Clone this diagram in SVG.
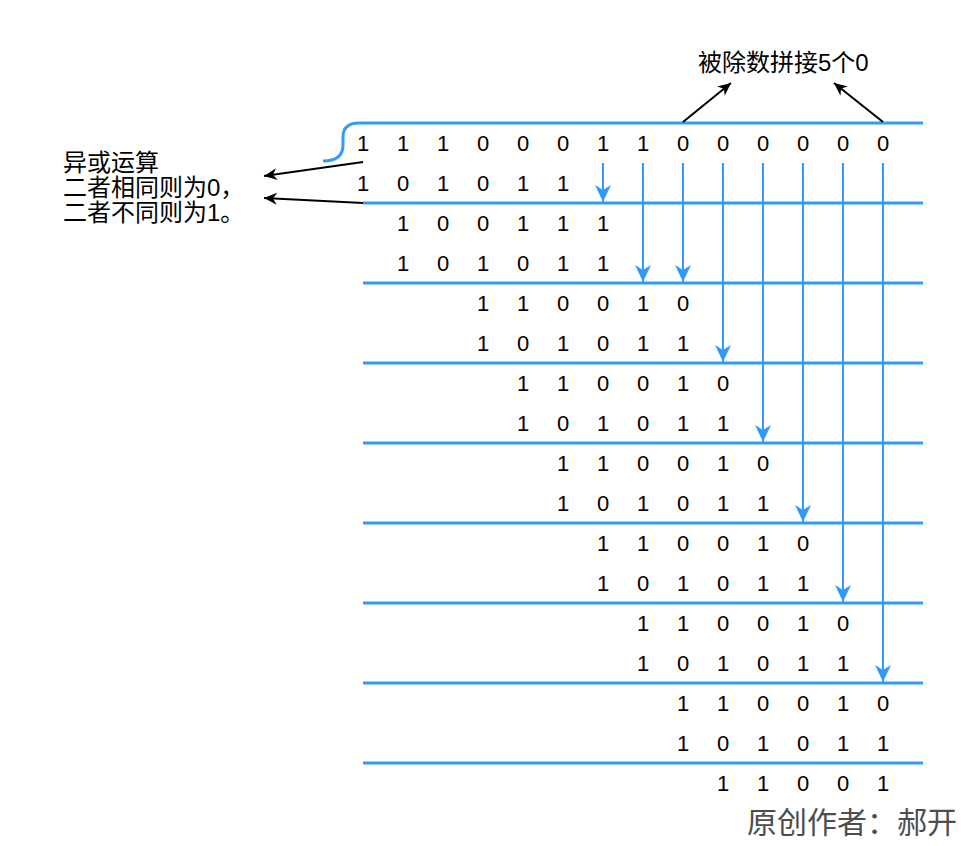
<svg xmlns="http://www.w3.org/2000/svg" width="966" height="846" viewBox="0 0 966 846">
<defs>
<style>
.d{font-family:"Liberation Sans",Arial,sans-serif;font-size:22px;fill:#000;text-anchor:middle}
.lbl{font-family:"Liberation Sans","Noto Sans CJK SC",sans-serif;font-size:24px;fill:#000}
.wm{font-family:"Noto Sans CJK SC","Liberation Sans",sans-serif;font-size:30px;fill:#4d4d4d}
.hl{stroke:#3399FF;stroke-width:3;fill:none}
.va{stroke:#3399FF;stroke-width:2;fill:none;marker-end:url(#ba)}
.ka{stroke:#000;stroke-width:2;fill:none;marker-end:url(#ka)}
</style>
<marker id="ba" viewBox="0 0 18 18" refX="17" refY="9" markerWidth="18" markerHeight="18" markerUnits="userSpaceOnUse" orient="auto">
<path d="M17,9 L0,1 L5,9 L0,17 Z" fill="#3399FF"/>
</marker>
<marker id="ka" viewBox="0 0 14 14" refX="13" refY="7" markerWidth="14" markerHeight="14" markerUnits="userSpaceOnUse" orient="auto">
<path d="M13,7 L0,1 L4,7 L0,13 Z" fill="#000"/>
</marker>
</defs>
<rect width="966" height="846" fill="#fff"/>
<g id="connectors">
<path class="hl" d="M323,161 Q343,161 343,145 L343,137 Q343,123 359,123 L923,123"/>
<line class="hl" x1="363" y1="203" x2="923" y2="203"/>
<line class="hl" x1="363" y1="283" x2="923" y2="283"/>
<line class="hl" x1="363" y1="363" x2="923" y2="363"/>
<line class="hl" x1="363" y1="443" x2="923" y2="443"/>
<line class="hl" x1="363" y1="523" x2="923" y2="523"/>
<line class="hl" x1="363" y1="603" x2="923" y2="603"/>
<line class="hl" x1="363" y1="683" x2="923" y2="683"/>
<line class="hl" x1="363" y1="763" x2="923" y2="763"/>
<line class="va" x1="603" y1="163" x2="603" y2="202"/>
<line class="va" x1="643" y1="163" x2="643" y2="282"/>
<line class="va" x1="683" y1="163" x2="683" y2="282"/>
<line class="va" x1="723" y1="163" x2="723" y2="362"/>
<line class="va" x1="763" y1="163" x2="763" y2="442"/>
<line class="va" x1="803" y1="163" x2="803" y2="522"/>
<line class="va" x1="843" y1="163" x2="843" y2="602"/>
<line class="va" x1="883" y1="163" x2="883" y2="682"/>
<line class="ka" x1="683" y1="122" x2="731" y2="83"/>
<line class="ka" x1="883" y1="122" x2="834" y2="83"/>
<line class="ka" x1="363" y1="162" x2="264" y2="176"/>
<line class="ka" x1="363" y1="203" x2="264" y2="198"/>
</g>
<g id="label-top"><text class="lbl" x="698" y="71">被除数拼接5个0</text></g>
<g id="label-left">
<text class="lbl" x="63" y="171">异或运算</text>
<text class="lbl" x="63" y="196">二者相同则为0，</text>
<text class="lbl" x="63" y="221">二者不同则为1。</text>
</g>
<g id="watermark"><text class="wm" x="747" y="833">原创作者：郝开</text></g>
<g id="rows" transform="translate(0,1)">
<g id="row0">
<text class="d" x="363" y="150">1</text><text class="d" x="403" y="150">1</text><text class="d" x="443" y="150">1</text><text class="d" x="483" y="150">0</text><text class="d" x="523" y="150">0</text><text class="d" x="563" y="150">0</text><text class="d" x="603" y="150">1</text><text class="d" x="643" y="150">1</text><text class="d" x="683" y="150">0</text><text class="d" x="723" y="150">0</text><text class="d" x="763" y="150">0</text><text class="d" x="803" y="150">0</text><text class="d" x="843" y="150">0</text><text class="d" x="883" y="150">0</text>
</g>
<g id="row1"><text class="d" x="363" y="190">1</text><text class="d" x="403" y="190">0</text><text class="d" x="443" y="190">1</text><text class="d" x="483" y="190">0</text><text class="d" x="523" y="190">1</text><text class="d" x="563" y="190">1</text></g>
<g id="row2"><text class="d" x="403" y="230">1</text><text class="d" x="443" y="230">0</text><text class="d" x="483" y="230">0</text><text class="d" x="523" y="230">1</text><text class="d" x="563" y="230">1</text><text class="d" x="603" y="230">1</text></g>
<g id="row3"><text class="d" x="403" y="270">1</text><text class="d" x="443" y="270">0</text><text class="d" x="483" y="270">1</text><text class="d" x="523" y="270">0</text><text class="d" x="563" y="270">1</text><text class="d" x="603" y="270">1</text></g>
<g id="row4"><text class="d" x="483" y="310">1</text><text class="d" x="523" y="310">1</text><text class="d" x="563" y="310">0</text><text class="d" x="603" y="310">0</text><text class="d" x="643" y="310">1</text><text class="d" x="683" y="310">0</text></g>
<g id="row5"><text class="d" x="483" y="350">1</text><text class="d" x="523" y="350">0</text><text class="d" x="563" y="350">1</text><text class="d" x="603" y="350">0</text><text class="d" x="643" y="350">1</text><text class="d" x="683" y="350">1</text></g>
<g id="row6"><text class="d" x="523" y="390">1</text><text class="d" x="563" y="390">1</text><text class="d" x="603" y="390">0</text><text class="d" x="643" y="390">0</text><text class="d" x="683" y="390">1</text><text class="d" x="723" y="390">0</text></g>
<g id="row7"><text class="d" x="523" y="430">1</text><text class="d" x="563" y="430">0</text><text class="d" x="603" y="430">1</text><text class="d" x="643" y="430">0</text><text class="d" x="683" y="430">1</text><text class="d" x="723" y="430">1</text></g>
<g id="row8"><text class="d" x="563" y="470">1</text><text class="d" x="603" y="470">1</text><text class="d" x="643" y="470">0</text><text class="d" x="683" y="470">0</text><text class="d" x="723" y="470">1</text><text class="d" x="763" y="470">0</text></g>
<g id="row9"><text class="d" x="563" y="510">1</text><text class="d" x="603" y="510">0</text><text class="d" x="643" y="510">1</text><text class="d" x="683" y="510">0</text><text class="d" x="723" y="510">1</text><text class="d" x="763" y="510">1</text></g>
<g id="row10"><text class="d" x="603" y="550">1</text><text class="d" x="643" y="550">1</text><text class="d" x="683" y="550">0</text><text class="d" x="723" y="550">0</text><text class="d" x="763" y="550">1</text><text class="d" x="803" y="550">0</text></g>
<g id="row11"><text class="d" x="603" y="590">1</text><text class="d" x="643" y="590">0</text><text class="d" x="683" y="590">1</text><text class="d" x="723" y="590">0</text><text class="d" x="763" y="590">1</text><text class="d" x="803" y="590">1</text></g>
<g id="row12"><text class="d" x="643" y="630">1</text><text class="d" x="683" y="630">1</text><text class="d" x="723" y="630">0</text><text class="d" x="763" y="630">0</text><text class="d" x="803" y="630">1</text><text class="d" x="843" y="630">0</text></g>
<g id="row13"><text class="d" x="643" y="670">1</text><text class="d" x="683" y="670">0</text><text class="d" x="723" y="670">1</text><text class="d" x="763" y="670">0</text><text class="d" x="803" y="670">1</text><text class="d" x="843" y="670">1</text></g>
<g id="row14"><text class="d" x="683" y="710">1</text><text class="d" x="723" y="710">1</text><text class="d" x="763" y="710">0</text><text class="d" x="803" y="710">0</text><text class="d" x="843" y="710">1</text><text class="d" x="883" y="710">0</text></g>
<g id="row15"><text class="d" x="683" y="750">1</text><text class="d" x="723" y="750">0</text><text class="d" x="763" y="750">1</text><text class="d" x="803" y="750">0</text><text class="d" x="843" y="750">1</text><text class="d" x="883" y="750">1</text></g>
<g id="row16"><text class="d" x="723" y="790">1</text><text class="d" x="763" y="790">1</text><text class="d" x="803" y="790">0</text><text class="d" x="843" y="790">0</text><text class="d" x="883" y="790">1</text></g>
</g>
</svg>
